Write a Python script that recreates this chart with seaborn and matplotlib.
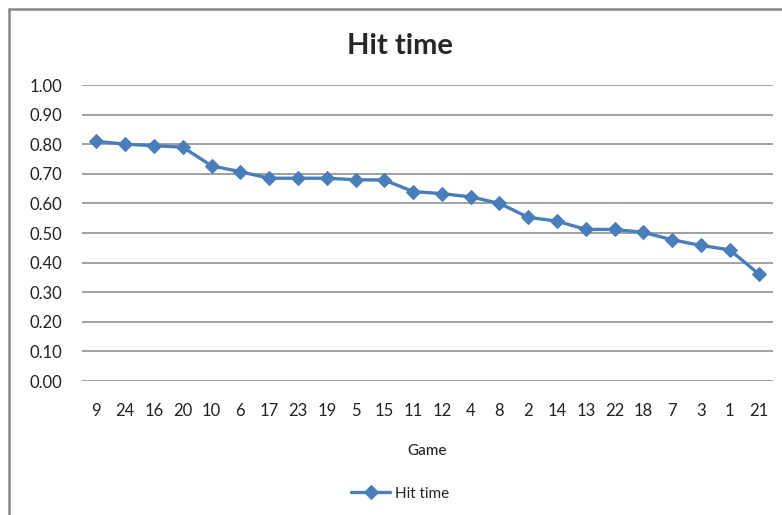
import seaborn as sns
import matplotlib.pyplot as plt
import matplotlib.patches as patches
import pandas as pd

# --- data ---
games = ["9", "24", "16", "20", "10", "6", "17", "23", "19", "5", "15", "11",
         "12", "4", "8", "2", "14", "13", "22", "18", "7", "3", "1", "21"]
hit_time = [0.81, 0.80, 0.795, 0.79, 0.727, 0.707, 0.685, 0.685, 0.685, 0.68, 0.679, 0.64,
            0.633, 0.622, 0.60, 0.553, 0.54, 0.512, 0.512, 0.502, 0.477, 0.458, 0.443, 0.362]

df = pd.DataFrame({"Game": games, "Hit time": hit_time, "pos": range(len(games))})

sns.set_style("white")
plt.rcParams["font.family"] = ["Lato", "DejaVu Sans"]

blue = "#4a7ebb"
grey = "#868686"

fig = plt.figure(figsize=(7.82, 5.15), dpi=100)
ax = fig.add_axes([82 / 782, 1 - 381 / 515, (773 - 82) / 782, (381 - 85) / 515])

sns.lineplot(data=df, x="pos", y="Hit time", ax=ax, color=blue, linewidth=2.4,
             marker="D", markersize=7, markeredgecolor=blue, label="Hit time")

ax.set_ylim(0, 1.0)
ax.set_xlim(-0.5, len(games) - 0.5)
ax.set_yticks([i / 10 for i in range(11)])
ax.set_yticklabels([f"{i / 10:.2f}" for i in range(11)])
ax.set_xticks(range(len(games)))
ax.set_xticklabels(games)
ax.yaxis.grid(True, color=grey, linewidth=1.1)
ax.set_axisbelow(True)
for s in ax.spines.values():
    s.set_visible(False)
ax.tick_params(axis="y", length=0, pad=14, labelsize=12, colors="#222222")
ax.tick_params(axis="x", length=0, pad=16, labelsize=12, colors="#222222")

ax.set_ylabel("")
ax.set_xlabel("Game", fontsize=11, fontweight="medium", labelpad=18)
ax.set_title("Hit time", fontsize=21, fontweight="bold", pad=22, x=(400 - 82) / (773 - 82))

leg = ax.legend(loc="upper center", bbox_to_anchor=(0.46, -0.31), frameon=False,
                fontsize=11, handlelength=2.6, handletextpad=0.3)

# outer chart frame (extends past right and bottom edges like the source)
frame = patches.Rectangle((9 / 782, -0.1), 1.2, 1 - 9 / 515 + 0.1, transform=fig.transFigure,
                          fill=False, edgecolor=grey, linewidth=1.8)
fig.patches.append(frame)

fig.savefig("out.png", dpi=100)
plt.close(fig)
